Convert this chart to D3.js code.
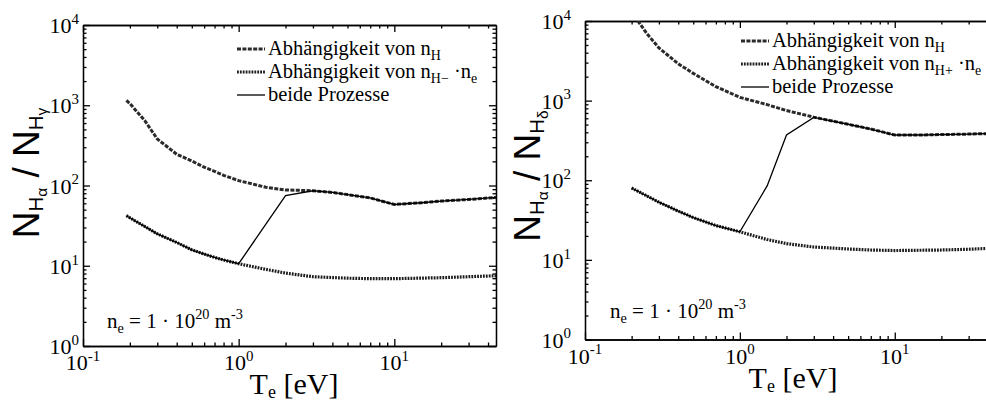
<!DOCTYPE html>
<html>
<head>
<meta charset="utf-8">
<script src="https://cdn.jsdelivr.net/npm/d3@7"></script>
<style>
  body { margin: 0; background: #fff; }
  svg { display: block; }
  .axis path, .axis line { stroke: #000; stroke-width: 1.3; }
</style>
</head>
<body>
<svg id="chart" width="986" height="403"></svg>
<script>
// ---- left panel: N_Ha / N_Hgamma ----
const leftT_nH = [0.19, 0.2, 0.25, 0.3, 0.4, 0.5, 0.6, 0.7, 0.8, 1, 1.5, 2, 3, 4, 5, 7, 10, 15, 20, 30, 45];
const leftV_nH = [1150, 1050, 640, 380, 245, 202, 169, 150, 134, 115, 95, 88, 86, 82, 77, 70, 58, 61, 64, 67, 71];
const leftT_nHm = [0.19, 0.3, 0.4, 0.5, 0.6, 0.7, 0.8, 1, 1.5, 2, 3, 5, 7, 10, 20, 30, 45];
const leftV_nHm = [42, 25, 19.5, 15.8, 14, 12.7, 11.8, 10.6, 9, 8.1, 7.3, 7.0, 6.9, 6.9, 7.1, 7.3, 7.5];
const leftT_both = [0.19, 0.3, 0.4, 0.5, 0.6, 0.7, 0.8, 1, 2, 3, 4, 5, 7, 10, 15, 20, 30, 45];
const leftV_both = [42, 25, 19.5, 15.8, 14, 12.7, 11.8, 10.6, 75, 86, 82, 77, 70, 58, 61, 64, 67, 71];

// ---- right panel: N_Ha / N_Hdelta ----
const rightT_nH = [0.2, 0.25, 0.3, 0.4, 0.5, 0.7, 1, 1.5, 2, 3, 5, 7, 10, 15, 20, 30, 50];
const rightV_nH = [13000, 7000, 4600, 2900, 2200, 1500, 1100, 890, 750, 620, 505, 440, 370, 370, 375, 380, 390];
const rightT_nHp = [0.2, 0.3, 0.4, 0.5, 0.7, 1, 1.5, 2, 3, 5, 7, 10, 20, 30, 50];
const rightV_nHp = [80, 53, 41, 34, 27, 22.5, 18, 16, 14.5, 13.7, 13.3, 13.1, 13.3, 13.6, 14.2];
const rightT_both = [0.2, 0.3, 0.4, 0.5, 0.7, 1, 1.5, 2, 3, 5, 7, 10, 15, 20, 30, 50];
const rightV_both = [80, 53, 41, 34, 27, 22.5, 85, 370, 615, 505, 440, 370, 370, 375, 380, 390];

const xMajor = [0.1, 1, 10];
const yMajor = [1, 10, 100, 1000, 10000];
const legendLeft = [
  [["Abhängigkeit von n", 0], ["H", -1]],
  [["Abhängigkeit von n", 0], ["H−", -1], [" ·n", 0], ["e", -1]],
  [["beide Prozesse", 0]],
];
const legendRight = [
  [["Abhängigkeit von n", 0], ["H", -1]],
  [["Abhängigkeit von n", 0], ["H+", -1], [" ·n", 0], ["e", -1]],
  [["beide Prozesse", 0]],
];

const SERIF = '"Liberation Serif", "Times New Roman", "DejaVu Serif", serif';
const SANS = '"Liberation Sans", Arial, Helvetica, sans-serif';

const svg = d3.select("#chart");

// writes a label made of normal / sub / sup / subsub parts
const textShift = { "0": 0, "1": -0.42, "-1": 0.22, "-2": 0.4 };
const textScale = { "0": 1, "1": 0.68, "-1": 0.68, "-2": 0.5 };
const titleShift = { "0": 0, "1": -0.4, "-1": 0.12, "-2": 0.22 };
const titleScale = { "0": 1, "1": 0.6, "-1": 0.55, "-2": 0.42 };

function rich(sel, parts, size, shift = textShift, scale = textScale) {
  let cur = 0;
  parts.forEach(([t, lvl]) => {
    const off = shift[lvl] * size;
    sel.append("tspan")
      .attr("dy", off - cur)
      .style("font-size", scale[lvl] * size + "px")
      .text(t);
    cur = off;
  });
}

function label(g, family, size) {
  return g.append("text")
    .style("font-family", family)
    .style("font-size", size + "px")
    .attr("fill", "#000");
}

function minorOf(majors, max) {
  const out = [];
  majors.forEach((d) => {
    for (let k = 2; k <= 9; k++) if (d * k <= max) out.push(d * k);
  });
  return out;
}

function drawPanel(p) {
  const x = d3.scaleLog().domain([0.1, p.xMax]).range([p.left, p.right]);
  const y = d3.scaleLog().domain([1, 1e4]).range([p.bottom, p.top]);
  const g = svg.append("g");

  const xMin = minorOf(xMajor, p.xMax);
  const yMin = minorOf(yMajor.slice(0, 4), 1e4);

  const sides = [
    [d3.axisBottom(x), `translate(0,${p.bottom})`, xMin, xMajor],
    [d3.axisTop(x), `translate(0,${p.top})`, xMin, xMajor],
    [d3.axisLeft(y), `translate(${p.left},0)`, yMin, yMajor],
    [d3.axisRight(y), `translate(${p.right},0)`, yMin, yMajor],
  ];
  sides.forEach(([ax, tr, minor, major]) => {
    g.append("g").attr("class", "axis").attr("transform", tr)
      .call(ax.tickValues(minor).tickSizeInner(-3.5).tickSizeOuter(0).tickFormat(""));
    g.append("g").attr("class", "axis").attr("transform", tr)
      .call(ax.tickValues(major).tickSizeInner(-7).tickSizeOuter(0).tickFormat(""));
  });

  // tick labels
  xMajor.forEach((v) => {
    const t = label(g, SERIF, 22)
      .attr("x", x(v)).attr("y", p.bottom + 24)
      .attr("text-anchor", "middle");
    rich(t, [["10", 0], [String(Math.round(Math.log10(v))), 1]], 22);
  });
  yMajor.forEach((v) => {
    const t = label(g, SERIF, 22)
      .attr("x", p.left - p.yLabelGap).attr("y", y(v) + 8)
      .attr("text-anchor", "end");
    rich(t, [["10", 0], [String(Math.round(Math.log10(v))), 1]], 22);
  });

  // axis titles
  const xt = label(g, SERIF, 30)
    .attr("x", p.xTitleX).attr("y", p.xTitleY)
    .attr("text-anchor", "middle");
  rich(xt, [["T", 0], ["e", -1], [" [eV]", 0]], 30, titleShift, { "0": 1, "-1": 0.6 });

  const yt = label(g, SANS, 37)
    .attr("transform", `translate(${p.yTitleX},${p.yTitleY}) rotate(-90)`)
    .attr("text-anchor", "middle");
  rich(yt, [["N", 0], ["H", -1], [p.lineSym1, -2], [" / N", 0], ["H", -1], [p.lineSym2, -2]],
    37, titleShift, titleScale);

  // curves
  const clipId = "clip" + p.id;
  svg.append("clipPath").attr("id", clipId).append("rect")
    .attr("x", p.left).attr("y", p.top)
    .attr("width", p.right - p.left).attr("height", p.bottom - p.top);

  const line = d3.line().x((d) => x(d[0])).y((d) => y(d[1]));
  const curves = g.append("g").attr("clip-path", `url(#${clipId})`);
  p.series.forEach((s) => {
    curves.append("path")
      .datum(d3.zip(s.t, s.v))
      .attr("d", line)
      .attr("fill", "none")
      .attr("stroke", s.color)
      .attr("stroke-width", s.width)
      .attr("stroke-dasharray", s.dash);
  });

  // legend
  p.legend.forEach((parts, i) => {
    const s = p.series[i];
    const by = p.legendY + i * 23;
    g.append("line")
      .attr("x1", p.legendX).attr("x2", p.legendX + 28)
      .attr("y1", by - 6).attr("y2", by - 6)
      .attr("stroke", s.color).attr("stroke-width", s.width)
      .attr("stroke-dasharray", s.dash);
    const t = label(g, SERIF, 20.5)
      .attr("x", p.legendX + 31).attr("y", by);
    rich(t, parts, 20.5);
  });

  // density note
  const n = label(g, SERIF, 21).attr("x", p.noteX).attr("y", p.noteY);
  rich(n, [["n", 0], ["e", -1], [" = 1 · 10", 0], ["20", 1], [" m", 0], ["-3", 1]], 21);
}

const dashedStyle = { color: "#2a2a2a", width: 3, dash: "4,1.4" };
const dottedStyle = { color: "#1a1a1a", width: 3.2, dash: "1.8,1.1" };
const solidStyle = { color: "#000", width: 1.3, dash: null };

drawPanel({
  id: "L", left: 83, right: 496, top: 25, bottom: 346, xMax: 45,
  yLabelGap: 4, xTitleX: 294, xTitleY: 394, yTitleX: 39, yTitleY: 173,
  lineSym1: "α", lineSym2: "γ",
  legendX: 237, legendY: 55, legend: legendLeft,
  noteX: 107, noteY: 328,
  series: [
    { t: leftT_nH, v: leftV_nH, ...dashedStyle },
    { t: leftT_nHm, v: leftV_nHm, ...dottedStyle },
    { t: leftT_both, v: leftV_both, ...solidStyle },
  ],
});

drawPanel({
  id: "R", left: 585, right: 1003, top: 21, bottom: 339.5, xMax: 50,
  yLabelGap: 14, xTitleX: 793, xTitleY: 388, yTitleX: 540, yTitleY: 176,
  lineSym1: "α", lineSym2: "δ",
  legendX: 741, legendY: 47, legend: legendRight,
  noteX: 610, noteY: 318,
  series: [
    { t: rightT_nH, v: rightV_nH, ...dashedStyle },
    { t: rightT_nHp, v: rightV_nHp, ...dottedStyle },
    { t: rightT_both, v: rightV_both, ...solidStyle },
  ],
});
</script>
</body>
</html>
